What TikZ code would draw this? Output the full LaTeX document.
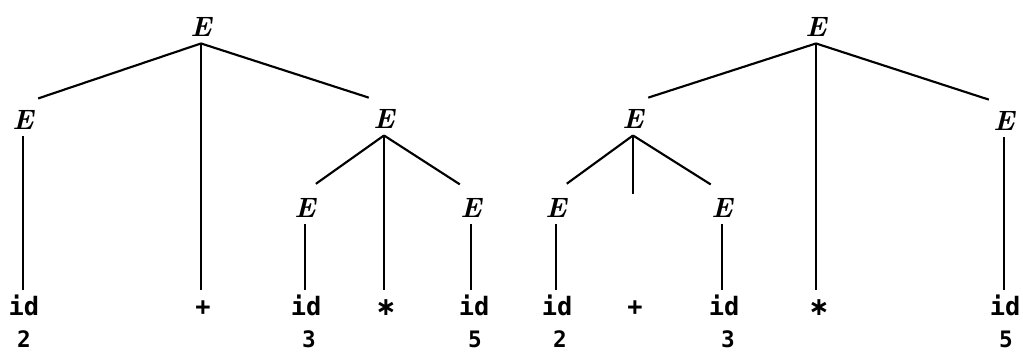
\documentclass[tikz,border=0pt]{standalone}
\usepackage{fontspec}
\setmonofont{DejaVu Sans Mono}
\newfontfamily\djvsans{DejaVu Sans}
\newcommand{\opstar}{{\djvsans\bfseries ∗}}
\begin{document}
\begin{tikzpicture}[x=0.75pt,y=-0.75pt,
  nt/.style={font=\fontsize{21}{21}\selectfont\bfseries\itshape, inner sep=5pt},
  leaf/.style={font=\fontsize{19}{19}\selectfont\ttfamily\bfseries, inner sep=5pt, text height=14pt, text depth=0pt},
  num/.style={font=\fontsize{17}{17}\selectfont\ttfamily\bfseries, inner sep=0pt},
  edge/.style={line width=1.6pt},
  slant/.style={edge, shorten >=12pt}]
\useasboundingbox (0,0) rectangle (1023,354);
% left tree
\node[nt] (r1) at (201,27) {E};
\node[nt] (a1) at (23,120) {E};
\node[nt] (b1) at (384,119) {E};
\node[nt] (c1) at (305,208) {E};
\node[nt] (d1) at (471,208) {E};
\node[leaf] (l1) at (24,306) {id};
\node[leaf] (l2) at (203,306) {+};
\node[leaf] (l3) at (306,306) {id};
\node[leaf] (l4) at (386,306) {\opstar};
\node[leaf] (l5) at (474,306) {id};
\node[num] (n1) at (24,339) {2};
\node[num] (n3) at (309,339) {3};
\node[num] (n5) at (475,339) {5};
\draw[slant] (r1.south) -- (a1.north);
\draw[slant] (r1.south) -- (b1.north);
\draw[edge] (r1.south) -- (r1.south |- l2.north);
\draw[edge] (a1.south) -- (a1.south |- l1.north);
\draw[slant, shorten >=10pt] (b1.south) -- (c1.north);
\draw[slant, shorten >=10pt] (b1.south) -- (d1.north);
\draw[edge] (b1.south) -- (b1.south |- l4.north);
\draw[edge] (c1.south) -- (c1.south |- l3.north);
\draw[edge] (d1.south) -- (d1.south |- l5.north);
% right tree
\node[nt] (r2) at (816,27) {E};
\node[nt] (a2) at (633,119) {E};
\node[nt] (b2) at (1004,121) {E};
\node[nt] (c2) at (556,208) {E};
\node[nt] (d2) at (722,208) {E};
\node[leaf] (m1) at (557,306) {id};
\node[leaf] (m2) at (635,306) {+};
\node[leaf] (m3) at (724,306) {id};
\node[leaf] (m4) at (819,306) {\opstar};
\node[leaf] (m5) at (1005,306) {id};
\node[num] (p1) at (560,339) {2};
\node[num] (p3) at (728,339) {3};
\node[num] (p5) at (1006,339) {5};
\draw[slant] (r2.south) -- (a2.north);
\draw[slant] (r2.south) -- (b2.north);
\draw[edge] (r2.south) -- (r2.south |- m4.north);
\draw[slant, shorten >=10pt] (a2.south) -- (c2.north);
\draw[slant, shorten >=10pt] (a2.south) -- (d2.north);
\draw[edge, shorten >=72pt] (a2.south) -- (a2.south |- m2.north);
\draw[edge] (c2.south) -- (c2.south |- m1.north);
\draw[edge] (d2.south) -- (d2.south |- m3.north);
\draw[edge] (b2.south) -- (b2.south |- m5.north);
\end{tikzpicture}
\end{document}
